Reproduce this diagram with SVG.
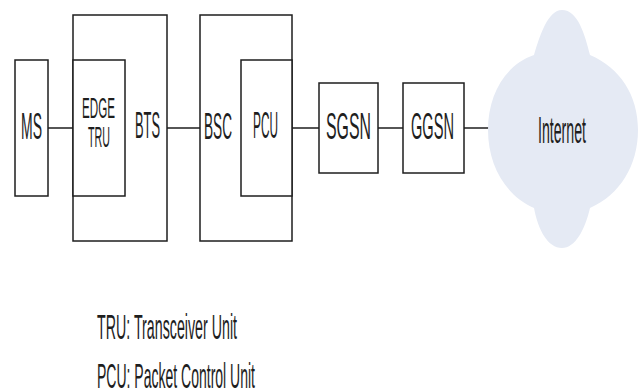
<svg xmlns="http://www.w3.org/2000/svg" width="640" height="390" viewBox="0 0 640 390">
<style>
.box{fill:#ffffff;stroke:#1e1e1e;stroke-width:1.5}
.frame{fill:none;stroke:#1e1e1e;stroke-width:1.5}
.link{stroke:#1e1e1e;stroke-width:1.5;fill:none}
.lbl{font-family:"Liberation Sans",Arial,sans-serif;font-size:37px;fill:#1e1e1e;text-anchor:middle}
.sm{font-family:"Liberation Sans",Arial,sans-serif;font-size:29px;fill:#1e1e1e;text-anchor:middle}
.leg{font-family:"Liberation Sans",Arial,sans-serif;font-size:35px;fill:#1e1e1e}
</style>
<rect width="640" height="390" fill="#ffffff"/>
<g id="connectors">
<line class="link" x1="48" y1="128" x2="73" y2="128"/>
<line class="link" x1="167" y1="128" x2="200" y2="128"/>
<line class="link" x1="292" y1="128" x2="319" y2="128"/>
<line class="link" x1="378" y1="128" x2="403" y2="128"/>
<line class="link" x1="464" y1="128" x2="489" y2="128"/>
</g>
<g id="ms">
<rect class="box" x="15" y="60" width="33" height="136"/>
<text class="lbl" x="31.5" y="139" textLength="21" lengthAdjust="spacingAndGlyphs">MS</text>
</g>
<g id="bts">
<rect class="frame" x="73" y="15" width="94" height="226"/>
<text class="lbl" x="147.5" y="138" textLength="25" lengthAdjust="spacingAndGlyphs">BTS</text>
</g>
<g id="edge-tru">
<rect class="box" x="73" y="60" width="52" height="136"/>
<text class="sm" x="98.5" y="118" textLength="33" lengthAdjust="spacingAndGlyphs">EDGE</text>
<text class="sm" x="99" y="147" textLength="22" lengthAdjust="spacingAndGlyphs">TRU</text>
</g>
<g id="bsc">
<rect class="frame" x="200" y="15" width="92" height="226"/>
<text class="lbl" x="218" y="139" textLength="28" lengthAdjust="spacingAndGlyphs">BSC</text>
</g>
<g id="pcu">
<rect class="box" x="241" y="60" width="51" height="136"/>
<text class="lbl" x="265.5" y="138" textLength="25" lengthAdjust="spacingAndGlyphs">PCU</text>
</g>
<g id="sgsn">
<rect class="box" x="319" y="83" width="59" height="90"/>
<text class="lbl" x="348.5" y="139" textLength="45" lengthAdjust="spacingAndGlyphs">SGSN</text>
</g>
<g id="ggsn">
<rect class="box" x="403" y="83" width="61" height="90"/>
<text class="lbl" x="432.5" y="139" textLength="43" lengthAdjust="spacingAndGlyphs">GGSN</text>
</g>
<g id="internet">
<path fill="#e5eaf4" d="M562 10 C578 10 585 35 590 55 C620 68 638 95 638 130 C638 165 620 195 590 208 C585 230 575 248 562 248 C548 248 538 230 534 208 C505 195 488 165 488 130 C488 95 505 65 534 55 C540 35 548 10 562 10 Z"/>
<text class="lbl" x="562" y="143" font-size="35" textLength="48" lengthAdjust="spacingAndGlyphs">Internet</text>
</g>
<g id="legend">
<text class="leg" x="97" y="339" textLength="140" lengthAdjust="spacingAndGlyphs">TRU: Transceiver Unit</text>
<text class="leg" x="97" y="388" textLength="158" lengthAdjust="spacingAndGlyphs">PCU: Packet Control Unit</text>
</g>
</svg>
